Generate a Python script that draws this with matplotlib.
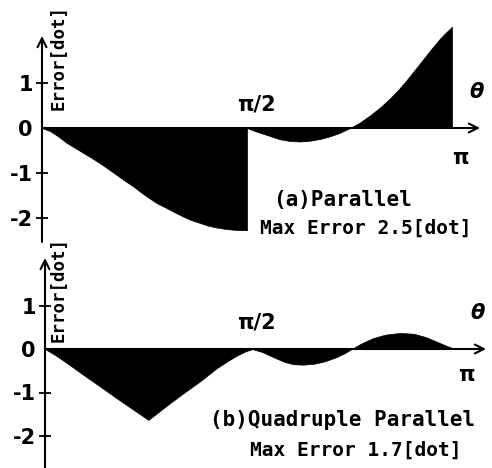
import numpy as np
import matplotlib.pyplot as plt

# angle in units of pi, error in dots
# (a) parallel: two branches, the error jumps back to 0 at pi/2
theta_a1 = [0, 0.02, 0.04, 0.06, 0.08, 0.10, 0.12, 0.141, 0.16, 0.18, 0.20, 0.223, 0.24,
            0.26, 0.28, 0.304, 0.325, 0.345, 0.365, 0.385, 0.405, 0.425, 0.445, 0.467,
            0.485, 0.5]
err_a1 = [0, -0.07, -0.19, -0.33, -0.44, -0.55, -0.66, -0.78, -0.90, -1.03, -1.16, -1.30,
          -1.42, -1.55, -1.67, -1.78, -1.88, -1.97, -2.05, -2.11, -2.17, -2.21, -2.24,
          -2.26, -2.27, -2.27]
theta_a2 = [0.5, 0.52, 0.54, 0.56, 0.58, 0.605, 0.63, 0.655, 0.68, 0.70, 0.72, 0.735,
            0.751, 0.775, 0.80, 0.825, 0.849, 0.87, 0.889, 0.91, 0.93, 0.95, 0.971,
            0.985, 1.0]
err_a2 = [0, -0.07, -0.13, -0.19, -0.25, -0.29, -0.30, -0.28, -0.24, -0.19, -0.13, -0.07,
          0, 0.12, 0.28, 0.46, 0.66, 0.86, 1.06, 1.30, 1.53, 1.76, 1.99, 2.12, 2.25]

# (b) quadruple parallel
theta_b = [0, 0.025, 0.053, 0.09, 0.134, 0.17, 0.21, 0.235, 0.252, 0.27, 0.30, 0.337,
           0.38, 0.419, 0.445, 0.47, 0.49, 0.5, 0.505, 0.53, 0.56, 0.585, 0.606, 0.63,
           0.655, 0.68, 0.71, 0.73, 0.748, 0.77, 0.80, 0.83, 0.866, 0.90, 0.93, 0.96,
           0.98, 1.0]
err_b = [0, -0.14, -0.32, -0.57, -0.86, -1.10, -1.36, -1.52, -1.63, -1.50, -1.28, -1.02,
         -0.73, -0.44, -0.28, -0.14, -0.05, -0.02, 0, -0.07, -0.20, -0.30, -0.35, -0.36,
         -0.34, -0.29, -0.19, -0.10, 0, 0.12, 0.25, 0.33, 0.37, 0.35, 0.27, 0.15, 0.07, 0]

ytick_vals = [1, 0, -1, -2]
ytick_text = ['1', '0', '-1', '-2']

W, H = 492, 468
fig = plt.figure(figsize=(W / 100, H / 100), dpi=100)
mono = 'DejaVu Sans Mono'


def panel(top, bottom, x0, xpi, y0, unit, xtip, ytip):
    # axes covering a band of the figure, scaled so that 0..pi maps to x0..xpi px
    ax = fig.add_axes([0, 1 - bottom / H, 1, (bottom - top) / H])
    sx = np.pi / (xpi - x0)
    ax.set_xlim(-x0 * sx, (W - x0) * sx)
    ax.set_ylim(-(bottom - y0) / unit, (y0 - top) / unit)
    ax.patch.set_visible(False)
    for s in ax.spines.values():
        s.set_visible(False)
    ax.spines['left'].set_position(('data', 0))
    ax.set_xticks([])
    ax.set_yticks(ytick_vals)
    ax.set_yticklabels(ytick_text, fontsize=15, fontweight='bold')
    ax.tick_params(axis='y', direction='inout', length=9, width=1.3, pad=2)
    ax.yaxis.get_major_ticks()[1].tick1line.set_visible(False)
    arrow = dict(arrowstyle='->', lw=1.5, color='black', shrinkA=0, shrinkB=0,
                 mutation_scale=16)
    ax.annotate('', xy=((xtip - x0) * sx, 0), xytext=(0, 0), arrowprops=arrow)
    ax.annotate('', xy=(0, (y0 - ytip) / unit), xytext=(0, -(bottom - y0) / unit),
                arrowprops=arrow)
    return ax


def label(x, y, s, **kw):
    fig.text(x / W, 1 - y / H, s, **kw)


# (a) Parallel
ax1 = panel(0, 242, 42, 452, 128, 45, 480, 36)
t1 = np.array(theta_a1) * np.pi
t2 = np.array(theta_a2) * np.pi
ax1.fill_between(t1, err_a1, 0, color='black', lw=0.5)
ax1.fill_between(t2, err_a2, 0, color='black', lw=0.5)

# (b) Quadruple Parallel
ax2 = panel(242, 468, 45, 455, 349, 43.5, 486, 258)
tb = np.array(theta_b) * np.pi
ax2.fill_between(tb, err_b, 0, color='black', lw=0.5)

for yc, ylab in [(58, 'Error[dot]'), (290, 'Error[dot]')]:
    label(59, yc, ylab, rotation=90, ha='center', va='center', fontsize=12.5,
          family=mono, fontweight='bold')

for yc in [105, 323]:
    label(256, yc, 'π/2', ha='center', va='center', fontsize=15, fontweight='bold')
for (xc, yc) in [(477, 92), (478, 313)]:
    label(xc, yc, 'θ', ha='center', va='center', fontsize=15, fontweight='bold',
          style='italic')
for (xc, yc) in [(460, 158), (466, 375)]:
    label(xc, yc, 'π', ha='center', va='center', fontsize=15, fontweight='bold')

label(273, 200, '(a)Parallel', ha='left', va='center', fontsize=15, family=mono,
      fontweight='bold')
label(260, 228, 'Max Error 2.5[dot]', ha='left', va='center', fontsize=14, family=mono,
      fontweight='bold')
label(210, 420, '(b)Quadruple Parallel', ha='left', va='center', fontsize=15, family=mono,
      fontweight='bold')
label(250, 450, 'Max Error 1.7[dot]', ha='left', va='center', fontsize=14, family=mono,
      fontweight='bold')

plt.savefig('out.png', dpi=100)
